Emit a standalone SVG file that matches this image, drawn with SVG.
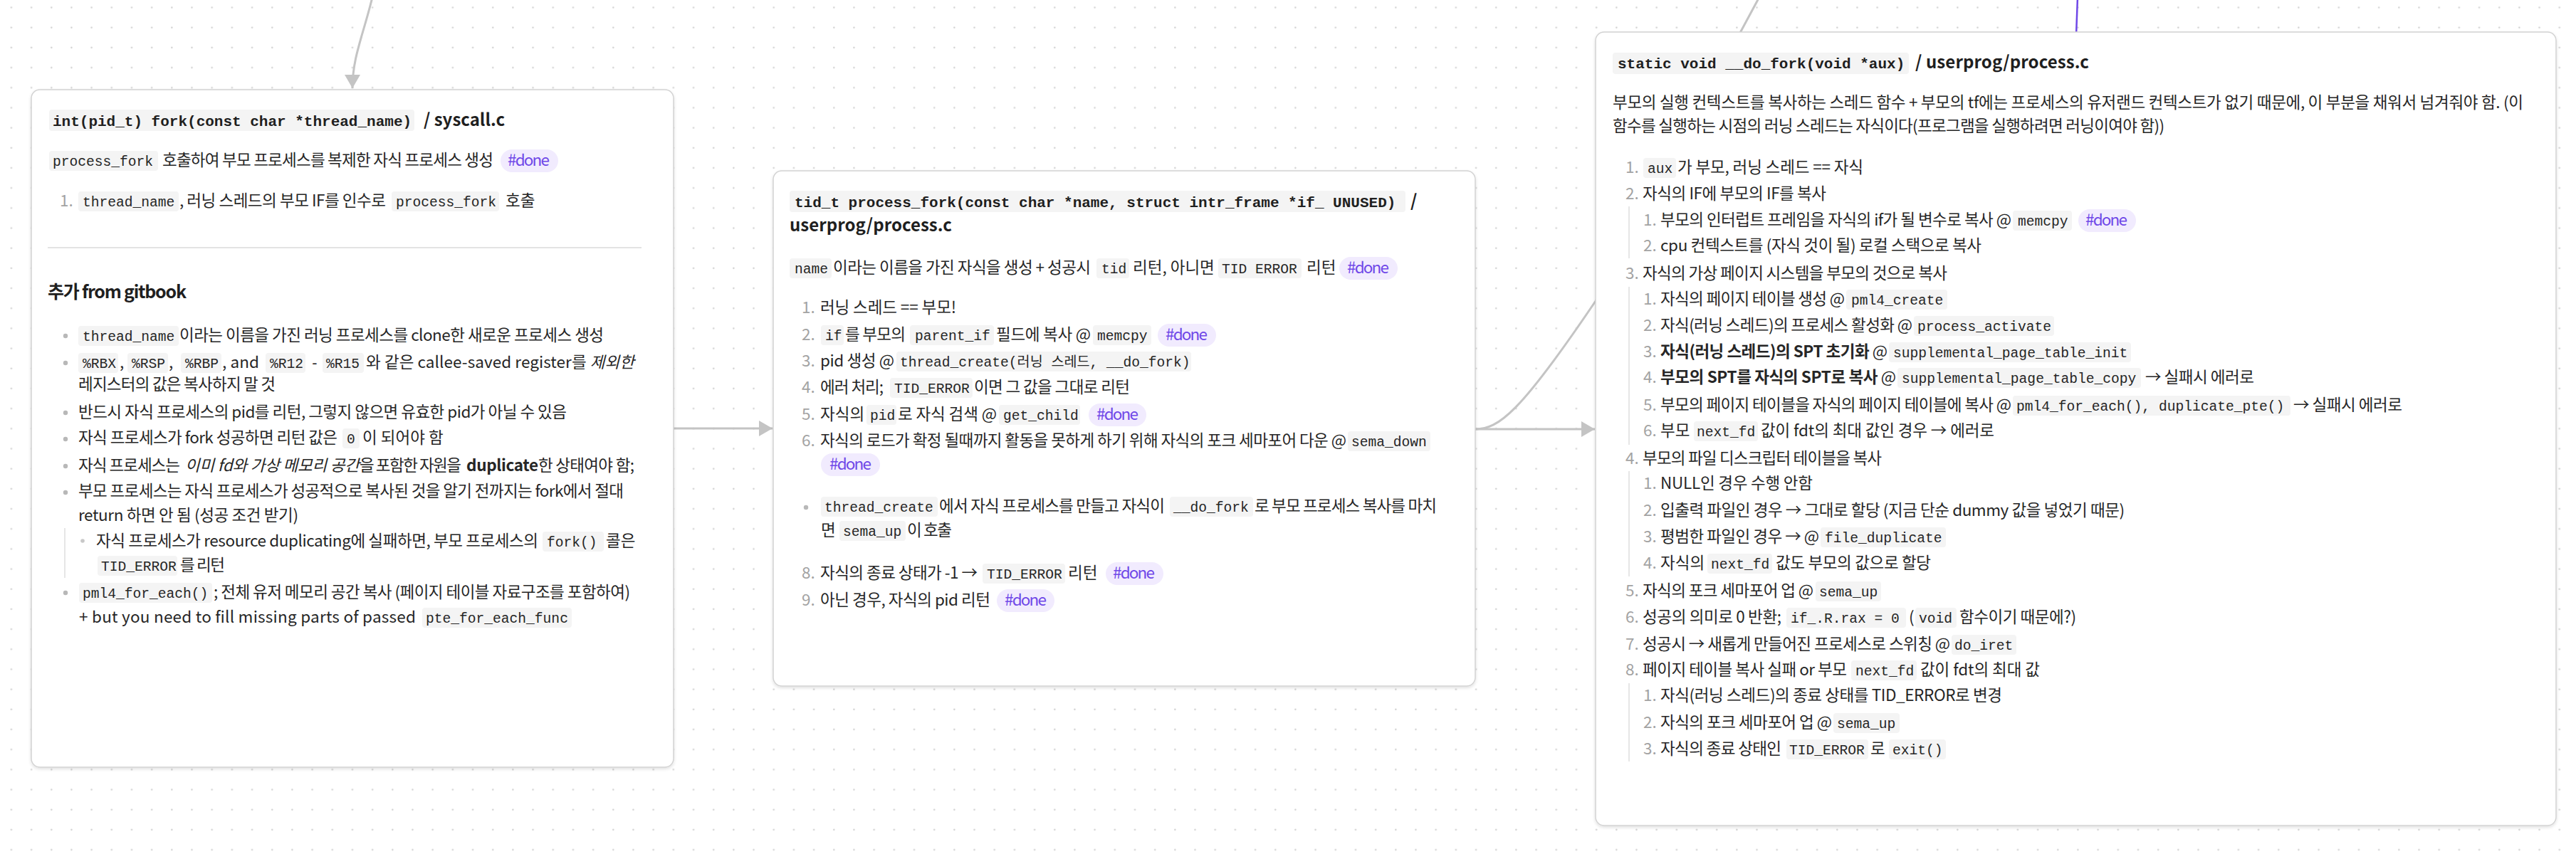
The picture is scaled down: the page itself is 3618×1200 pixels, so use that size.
<svg xmlns="http://www.w3.org/2000/svg" width="3618" height="1200" viewBox="0 0 3618 1200">
<defs>
<style>
.t{font-family:"Noto Sans CJK KR","Noto Sans",sans-serif;font-size:22.5px;fill:#262626}
.c{font-family:"Liberation Mono","DejaVu Sans Mono","Noto Sans CJK KR",monospace;font-size:19.6px;fill:#262626}
.hc{font-family:"Liberation Mono","DejaVu Sans Mono",monospace;font-size:21px;font-weight:bold;fill:#1f1f1f}
.hs{font-family:"Noto Sans CJK KR","Noto Sans",sans-serif;font-size:24px;font-weight:bold;fill:#1f1f1f}
.h2{font-family:"Noto Sans CJK KR","Noto Sans",sans-serif;font-size:25px;font-weight:bold;fill:#1f1f1f}
.n{font-family:"Noto Sans CJK KR","Noto Sans",sans-serif;font-size:22.5px;fill:#a3a3a3}
.b{font-weight:bold}
.i{font-style:italic}
.cb{fill:#f4f4f4}
.pill{fill:#f1ebfe}
.tag{font-family:"Noto Sans CJK KR","Noto Sans",sans-serif;font-size:22.5px;fill:#7048e8}
.card{fill:#fff;stroke:#d2d2d2;stroke-width:1.5}
.dot{fill:#b8b8b8}
.nest{stroke:#e6e6e6;stroke-width:2}
.conn{fill:none;stroke:#c4c4c4;stroke-width:3}
</style>
<pattern id="grid" x="0" y="0" width="28.18" height="28.18" patternUnits="userSpaceOnUse">
<circle cx="15.9" cy="10.5" r="1.3" fill="#d4d4d4"/>
</pattern>
<marker id="ah" markerUnits="userSpaceOnUse" markerWidth="20" markerHeight="22" refX="19" refY="11" orient="auto">
<path d="M0,0 L19,11 L0,22 z" fill="#c4c4c4"/>
</marker>
<filter id="sh" x="-5%" y="-5%" width="110%" height="110%">
<feDropShadow dx="0" dy="2" stdDeviation="2" flood-color="#000" flood-opacity="0.12"/>
</filter>
</defs>
<rect width="3618" height="1200" fill="#fff"/>
<rect width="3618" height="1200" fill="url(#grid)"/>

<g id="connectors">
<path class="conn" d="M523,-4 C510,50 495,80 495,124" marker-end="url(#ah)"/>
<path class="conn" d="M946,602 L1085,602" marker-end="url(#ah)"/>
<path class="conn" d="M2072,603 L2240,603" marker-end="url(#ah)"/>
<path class="conn" d="M2072,603 C2105,603 2135,580 2241,423 L2472,-6"/>
<path d="M2918,-4 L2916,50" fill="none" stroke="#7048e8" stroke-width="2.5"/>
</g>

<g id="node-fork-syscall">
<rect class="card" x="44" y="126" width="902" height="952" rx="12" filter="url(#sh)"/>
<rect class="cb" x="69" y="154" width="513" height="30" rx="4"/>
<text class="hc" x="74" y="177">int(pid_t) fork(const char *thread_name)</text>
<text class="hs" x="595" y="177">/ syscall.c</text>

<rect class="cb" x="69" y="212" width="153" height="28" rx="4"/>
<text class="c" x="74" y="233">process_fork</text>
<text class="t" x="228" y="233" textLength="465" lengthAdjust="spacing">호출하여 부모 프로세스를 복제한 자식 프로세스 생성</text>
<rect class="pill" x="703" y="210" width="81" height="32" rx="16"/>
<text class="tag" x="713" y="233" textLength="59" lengthAdjust="spacing">#done</text>

<text class="n" x="84" y="290">1.</text>
<rect class="cb" x="110" y="269" width="141" height="28" rx="4"/>
<text class="c" x="116" y="290">thread_name</text>
<text class="t" x="252" y="290" textLength="290" lengthAdjust="spacing">, 러닝 스레드의 부모 IF를 인수로</text>
<rect class="cb" x="550" y="269" width="151" height="28" rx="4"/>
<text class="c" x="556" y="290">process_fork</text>
<text class="t" x="710" y="290">호출</text>

<line x1="67" y1="348" x2="901" y2="348" stroke="#e3e3e3" stroke-width="2"/>
<text class="h2" x="67" y="419" textLength="195" lengthAdjust="spacing">추가 from gitbook</text>

<circle class="dot" cx="92" cy="472" r="3.2"/>
<rect class="cb" x="110" y="458" width="141" height="28" rx="4"/>
<text class="c" x="116" y="479">thread_name</text>
<text class="t" x="252" y="479" textLength="596" lengthAdjust="spacing">이라는 이름을 가진 러닝 프로세스를 clone한 새로운 프로세스 생성</text>

<circle class="dot" cx="92" cy="510" r="3.2"/>
<rect class="cb" x="110" y="496" width="56" height="28" rx="4"/>
<text class="c" x="116" y="517">%RBX</text>
<text class="t" x="168" y="517">,</text>
<rect class="cb" x="179" y="496" width="57" height="28" rx="4"/>
<text class="c" x="185" y="517">%RSP</text>
<text class="t" x="237" y="517">,</text>
<rect class="cb" x="254" y="496" width="57" height="28" rx="4"/>
<text class="c" x="260" y="517">%RBP</text>
<text class="t" x="312" y="517" textLength="52" lengthAdjust="spacing">, and</text>
<rect class="cb" x="373" y="496" width="56" height="28" rx="4"/>
<text class="c" x="379" y="517">%R12</text>
<text class="c" x="436" y="517">-</text>
<rect class="cb" x="453" y="496" width="58" height="28" rx="4"/>
<text class="c" x="458" y="517">%R15</text>
<text class="t" x="514" y="517" textLength="377" lengthAdjust="spacing">와 같은 callee-saved register를 <tspan class="i">제외한</tspan></text>
<text class="t" x="110" y="548" textLength="277" lengthAdjust="spacing">레지스터의 값은 복사하지 말 것</text>

<circle class="dot" cx="92" cy="580" r="3.2"/>
<text class="t" x="110" y="587" textLength="686" lengthAdjust="spacing">반드시 자식 프로세스의 pid를 리턴, 그렇지 않으면 유효한 pid가 아닐 수 있음</text>

<circle class="dot" cx="92" cy="617" r="3.2"/>
<text class="t" x="110" y="623" textLength="364" lengthAdjust="spacing">자식 프로세스가 fork 성공하면 리턴 값은</text>
<rect class="cb" x="481" y="602" width="24" height="28" rx="4"/>
<text class="c" x="487" y="623">0</text>
<text class="t" x="509" y="623">이 되어야 함</text>

<circle class="dot" cx="92" cy="655" r="3.2"/>
<text class="t" x="110" y="662" textLength="143" lengthAdjust="spacing">자식 프로세스는</text>
<text class="t i" x="260" y="662" textLength="245" lengthAdjust="spacing">이미 fd와 가상 메모리 공간</text>
<text class="t" x="505" y="662" textLength="143" lengthAdjust="spacing">을 포함한 자원을</text>
<text class="t b" x="655" y="662" textLength="101" lengthAdjust="spacing">duplicate</text>
<text class="t" x="756" y="662" textLength="135" lengthAdjust="spacing">한 상태여야 함;</text>

<circle class="dot" cx="92" cy="692" r="3.2"/>
<text class="t" x="110" y="698" textLength="766" lengthAdjust="spacing">부모 프로세스는 자식 프로세스가 성공적으로 복사된 것을 알기 전까지는 fork에서 절대</text>
<text class="t" x="110" y="732" textLength="309" lengthAdjust="spacing">return 하면 안 됨 (성공 조건 받기)</text>

<line class="nest" x1="91" y1="742" x2="91" y2="812"/>
<circle cx="116" cy="760" r="2.8" fill="#c8c8c8"/>
<text class="t" x="135" y="768" textLength="621" lengthAdjust="spacing">자식 프로세스가 resource duplicating에 실패하면, 부모 프로세스의</text>
<rect class="cb" x="762" y="747" width="86" height="28" rx="4"/>
<text class="c" x="768" y="768">fork()</text>
<text class="t" x="851" y="768">콜은</text>
<rect class="cb" x="137" y="781" width="112" height="28" rx="4"/>
<text class="c" x="142" y="802">TID_ERROR</text>
<text class="t" x="253" y="802" textLength="63" lengthAdjust="spacing">를 리턴</text>

<circle class="dot" cx="92" cy="833" r="3.2"/>
<rect class="cb" x="111" y="819" width="187" height="28" rx="4"/>
<text class="c" x="116" y="840">pml4_for_each()</text>
<text class="t" x="300" y="840" textLength="585" lengthAdjust="spacing">; 전체 유저 메모리 공간 복사 (페이지 테이블 자료구조를 포함하여)</text>
<text class="t" x="111" y="875" textLength="473" lengthAdjust="spacing">+ but you need to fill missing parts of passed</text>
<rect class="cb" x="593" y="854" width="210" height="28" rx="4"/>
<text class="c" x="598" y="875">pte_for_each_func</text>
</g>

<g id="node-process-fork">
<rect class="card" x="1086" y="240" width="986" height="724" rx="12" filter="url(#sh)"/>
<rect class="cb" x="1109" y="268" width="865" height="30" rx="4"/>
<text class="hc" x="1116" y="291">tid_t process_fork(const char *name, struct intr_frame *if_ UNUSED)</text>
<text class="hs" x="1981" y="291">/</text>
<text class="hs" x="1109" y="325" textLength="228" lengthAdjust="spacing">userprog/process.c</text>

<rect class="cb" x="1109" y="363" width="59" height="28" rx="4"/>
<text class="c" x="1116" y="384">name</text>
<text class="t" x="1170" y="384" textLength="362" lengthAdjust="spacing">이라는 이름을 가진 자식을 생성 + 성공시</text>
<rect class="cb" x="1540" y="363" width="46" height="28" rx="4"/>
<text class="c" x="1547" y="384">tid</text>
<text class="t" x="1591" y="384">리턴, 아니면</text>
<rect class="cb" x="1711" y="363" width="117" height="28" rx="4"/>
<text class="c" x="1716" y="384">TID ERROR</text>
<text class="t" x="1835" y="384">리턴</text>
<rect class="pill" x="1881" y="361" width="82" height="32" rx="16"/>
<text class="tag" x="1892" y="384" textLength="59" lengthAdjust="spacing">#done</text>

<text class="n" x="1126" y="440">1.</text>
<text class="t" x="1152" y="440" textLength="191" lengthAdjust="spacing">러닝 스레드 == 부모!</text>

<text class="n" x="1126" y="478">2.</text>
<rect class="cb" x="1153" y="457" width="32" height="28" rx="4"/>
<text class="c" x="1159" y="478">if</text>
<text class="t" x="1187" y="478" textLength="85" lengthAdjust="spacing">를 부모의</text>
<rect class="cb" x="1278" y="457" width="118" height="28" rx="4"/>
<text class="c" x="1285" y="478">parent_if</text>
<text class="t" x="1399" y="478" textLength="133" lengthAdjust="spacing">필드에 복사 @</text>
<rect class="cb" x="1535" y="457" width="82" height="28" rx="4"/>
<text class="c" x="1541" y="478">memcpy</text>
<rect class="pill" x="1626" y="455" width="82" height="32" rx="16"/>
<text class="tag" x="1637" y="478" textLength="59" lengthAdjust="spacing">#done</text>

<text class="n" x="1126" y="515">3.</text>
<text class="t" x="1152" y="515" textLength="104" lengthAdjust="spacing">pid 생성 @</text>
<rect class="cb" x="1259" y="494" width="414" height="28" rx="4"/>
<text class="c" x="1264" y="515">thread_create(러닝 스레드, __do_fork)</text>

<text class="n" x="1126" y="552">4.</text>
<text class="t" x="1152" y="552" textLength="89" lengthAdjust="spacing">에러 처리;</text>
<rect class="cb" x="1250" y="531" width="116" height="28" rx="4"/>
<text class="c" x="1256" y="552">TID_ERROR</text>
<text class="t" x="1368" y="552" textLength="219" lengthAdjust="spacing">이면 그 값을 그대로 리턴</text>

<text class="n" x="1126" y="590">5.</text>
<text class="t" x="1152" y="590">자식의</text>
<rect class="cb" x="1217" y="569" width="42" height="28" rx="4"/>
<text class="c" x="1222" y="590">pid</text>
<text class="t" x="1261" y="590" textLength="139" lengthAdjust="spacing">로 자식 검색 @</text>
<rect class="cb" x="1403" y="569" width="114" height="28" rx="4"/>
<text class="c" x="1409" y="590">get_child</text>
<rect class="pill" x="1529" y="567" width="81" height="32" rx="16"/>
<text class="tag" x="1540" y="590" textLength="59" lengthAdjust="spacing">#done</text>

<text class="n" x="1126" y="627">6.</text>
<text class="t" x="1152" y="627" textLength="739" lengthAdjust="spacing">자식의 로드가 확정 될때까지 활동을 못하게 하기 위해 자식의 포크 세마포어 다운 @</text>
<rect class="cb" x="1893" y="606" width="116" height="28" rx="4"/>
<text class="c" x="1898" y="627">sema_down</text>
<rect class="pill" x="1153" y="637" width="83" height="32" rx="16"/>
<text class="tag" x="1165" y="660" textLength="59" lengthAdjust="spacing">#done</text>

<circle class="dot" cx="1132" cy="713" r="3.2"/>
<rect class="cb" x="1153" y="698" width="164" height="28" rx="4"/>
<text class="c" x="1158" y="719">thread_create</text>
<text class="t" x="1319" y="719" textLength="317" lengthAdjust="spacing">에서 자식 프로세스를 만들고 자식이</text>
<rect class="cb" x="1643" y="698" width="117" height="28" rx="4"/>
<text class="c" x="1648" y="719">__do_fork</text>
<text class="t" x="1762" y="719" textLength="256" lengthAdjust="spacing">로 부모 프로세스 복사를 마치</text>
<text class="t" x="1153" y="753">면</text>
<rect class="cb" x="1179" y="732" width="93" height="28" rx="4"/>
<text class="c" x="1184" y="753">sema_up</text>
<text class="t" x="1274" y="753" textLength="63" lengthAdjust="spacing">이 호출</text>

<text class="n" x="1126" y="813">8.</text>
<text class="t" x="1152" y="813" textLength="221" lengthAdjust="spacing">자식의 종료 상태가 -1 →</text>
<rect class="cb" x="1380" y="792" width="116" height="28" rx="4"/>
<text class="c" x="1386" y="813">TID_ERROR</text>
<text class="t" x="1500" y="813">리턴</text>
<rect class="pill" x="1553" y="790" width="81" height="32" rx="16"/>
<text class="tag" x="1563" y="813" textLength="59" lengthAdjust="spacing">#done</text>

<text class="n" x="1126" y="851">9.</text>
<text class="t" x="1152" y="851" textLength="239" lengthAdjust="spacing">아닌 경우, 자식의 pid 리턴</text>
<rect class="pill" x="1400" y="828" width="81" height="32" rx="16"/>
<text class="tag" x="1411" y="851" textLength="59" lengthAdjust="spacing">#done</text>
</g>

<g id="node-do-fork">
<rect class="card" x="2241" y="45" width="1349" height="1115" rx="12" filter="url(#sh)"/>
<rect class="cb" x="2265" y="74" width="416" height="30" rx="4"/>
<text class="hc" x="2272" y="96">static void __do_fork(void *aux)</text>
<text class="hs" x="2690" y="96" textLength="244" lengthAdjust="spacing">/ userprog/process.c</text>

<text class="t" x="2265" y="152" textLength="1279" lengthAdjust="spacing">부모의 실행 컨텍스트를 복사하는 스레드 함수 + 부모의 tf에는 프로세스의 유저랜드 컨텍스트가 없기 때문에, 이 부분을 채워서 넘겨줘야 함. (이</text>
<text class="t" x="2265" y="185" textLength="775" lengthAdjust="spacing">함수를 실행하는 시점의 러닝 스레드는 자식이다(프로그램을 실행하려면 러닝이여야 함))</text>

<text class="n" x="2283" y="243">1.</text>
<rect class="cb" x="2308" y="222" width="46" height="28" rx="4"/>
<text class="c" x="2314" y="243">aux</text>
<text class="t" x="2356" y="243" textLength="261" lengthAdjust="spacing">가 부모, 러닝 스레드 == 자식</text>

<text class="n" x="2283" y="280">2.</text>
<text class="t" x="2307" y="280" textLength="258" lengthAdjust="spacing">자식의 IF에 부모의 IF를 복사</text>
<line class="nest" x1="2288" y1="290" x2="2288" y2="363"/>
<text class="n" x="2308" y="317">1.</text>
<text class="t" x="2332" y="317" textLength="493" lengthAdjust="spacing">부모의 인터럽트 프레임을 자식의 if가 될 변수로 복사 @</text>
<rect class="cb" x="2827" y="296" width="83" height="28" rx="4"/>
<text class="c" x="2834" y="317">memcpy</text>
<rect class="pill" x="2919" y="294" width="81" height="32" rx="16"/>
<text class="tag" x="2929" y="317" textLength="59" lengthAdjust="spacing">#done</text>
<text class="n" x="2308" y="353">2.</text>
<text class="t" x="2332" y="353" textLength="451" lengthAdjust="spacing">cpu 컨텍스트를 (자식 것이 될) 로컬 스택으로 복사</text>

<text class="n" x="2283" y="392">3.</text>
<text class="t" x="2307" y="392" textLength="428" lengthAdjust="spacing">자식의 가상 페이지 시스템을 부모의 것으로 복사</text>
<line class="nest" x1="2288" y1="403" x2="2288" y2="625"/>
<text class="n" x="2308" y="428">1.</text>
<text class="t" x="2332" y="428" textLength="259" lengthAdjust="spacing">자식의 페이지 테이블 생성 @</text>
<rect class="cb" x="2593" y="407" width="142" height="28" rx="4"/>
<text class="c" x="2600" y="428">pml4_create</text>
<text class="n" x="2308" y="465">2.</text>
<text class="t" x="2332" y="465" textLength="354" lengthAdjust="spacing">자식(러닝 스레드)의 프로세스 활성화 @</text>
<rect class="cb" x="2688" y="444" width="197" height="28" rx="4"/>
<text class="c" x="2693" y="465">process_activate</text>
<text class="n" x="2308" y="502">3.</text>
<text class="t" x="2332" y="502" textLength="319" lengthAdjust="spacing"><tspan class="b">자식(러닝 스레드)의 SPT 초기화</tspan> @</text>
<rect class="cb" x="2653" y="481" width="340" height="28" rx="4"/>
<text class="c" x="2659" y="502">supplemental_page_table_init</text>
<text class="n" x="2308" y="538">4.</text>
<text class="t" x="2332" y="538" textLength="331" lengthAdjust="spacing"><tspan class="b">부모의 SPT를 자식의 SPT로 복사</tspan> @</text>
<rect class="cb" x="2665" y="517" width="342" height="28" rx="4"/>
<text class="c" x="2671" y="538">supplemental_page_table_copy</text>
<text class="t" x="3013" y="538" textLength="153" lengthAdjust="spacing">→ 실패시 에러로</text>
<text class="n" x="2308" y="577">5.</text>
<text class="t" x="2332" y="577" textLength="493" lengthAdjust="spacing">부모의 페이지 테이블을 자식의 페이지 테이블에 복사 @</text>
<rect class="cb" x="2827" y="556" width="390" height="28" rx="4"/>
<text class="c" x="2832" y="577">pml4_for_each(), duplicate_pte()</text>
<text class="t" x="3221" y="577" textLength="153" lengthAdjust="spacing">→ 실패시 에러로</text>
<text class="n" x="2308" y="613">6.</text>
<text class="t" x="2332" y="613">부모</text>
<rect class="cb" x="2379" y="592" width="90" height="28" rx="4"/>
<text class="c" x="2383" y="613">next_fd</text>
<text class="t" x="2473" y="613" textLength="328" lengthAdjust="spacing">값이 fdt의 최대 값인 경우 → 에러로</text>

<text class="n" x="2283" y="652">4.</text>
<text class="t" x="2307" y="652" textLength="336" lengthAdjust="spacing">부모의 파일 디스크립터 테이블을 복사</text>
<line class="nest" x1="2288" y1="662" x2="2288" y2="810"/>
<text class="n" x="2308" y="687">1.</text>
<text class="t" x="2332" y="687" textLength="214" lengthAdjust="spacing">NULL인 경우 수행 안함</text>
<text class="n" x="2308" y="725">2.</text>
<text class="t" x="2332" y="725" textLength="652" lengthAdjust="spacing">입출력 파일인 경우 → 그대로 할당 (지금 단순 dummy 값을 넣었기 때문)</text>
<text class="n" x="2308" y="762">3.</text>
<text class="t" x="2332" y="762" textLength="223" lengthAdjust="spacing">평범한 파일인 경우 → @</text>
<rect class="cb" x="2557" y="741" width="176" height="28" rx="4"/>
<text class="c" x="2563" y="762">file_duplicate</text>
<text class="n" x="2308" y="799">4.</text>
<text class="t" x="2332" y="799">자식의</text>
<rect class="cb" x="2398" y="778" width="91" height="28" rx="4"/>
<text class="c" x="2403" y="799">next_fd</text>
<text class="t" x="2494" y="799" textLength="218" lengthAdjust="spacing">값도 부모의 값으로 할당</text>

<text class="n" x="2283" y="838">5.</text>
<text class="t" x="2307" y="838" textLength="240" lengthAdjust="spacing">자식의 포크 세마포어 업 @</text>
<rect class="cb" x="2550" y="817" width="92" height="28" rx="4"/>
<text class="c" x="2555" y="838">sema_up</text>

<text class="n" x="2283" y="875">6.</text>
<text class="t" x="2307" y="875" textLength="195" lengthAdjust="spacing">성공의 의미로 0 반환;</text>
<rect class="cb" x="2509" y="854" width="168" height="28" rx="4"/>
<text class="c" x="2515" y="875">if_.R.rax = 0</text>
<text class="t" x="2681" y="875">(</text>
<rect class="cb" x="2690" y="854" width="58" height="28" rx="4"/>
<text class="c" x="2695" y="875">void</text>
<text class="t" x="2752" y="875" textLength="164" lengthAdjust="spacing">함수이기 때문에?)</text>

<text class="n" x="2283" y="913">7.</text>
<text class="t" x="2307" y="913" textLength="432" lengthAdjust="spacing">성공시 → 새롭게 만들어진 프로세스로 스위칭 @</text>
<rect class="cb" x="2741" y="892" width="91" height="28" rx="4"/>
<text class="c" x="2745" y="913">do_iret</text>

<text class="n" x="2283" y="949">8.</text>
<text class="t" x="2307" y="949" textLength="287" lengthAdjust="spacing">페이지 테이블 복사 실패 or 부모</text>
<rect class="cb" x="2600" y="928" width="92" height="28" rx="4"/>
<text class="c" x="2606" y="949">next_fd</text>
<text class="t" x="2697" y="949" textLength="168" lengthAdjust="spacing">값이 fdt의 최대 값</text>
<line class="nest" x1="2288" y1="960" x2="2288" y2="1070"/>
<text class="n" x="2308" y="985">1.</text>
<text class="t" x="2332" y="985" textLength="480" lengthAdjust="spacing">자식(러닝 스레드)의 종료 상태를 TID_ERROR로 변경</text>
<text class="n" x="2308" y="1023">2.</text>
<text class="t" x="2332" y="1023" textLength="241" lengthAdjust="spacing">자식의 포크 세마포어 업 @</text>
<rect class="cb" x="2575" y="1002" width="93" height="28" rx="4"/>
<text class="c" x="2580" y="1023">sema_up</text>
<text class="n" x="2308" y="1060">3.</text>
<text class="t" x="2332" y="1060" textLength="170" lengthAdjust="spacing">자식의 종료 상태인</text>
<rect class="cb" x="2509" y="1039" width="115" height="28" rx="4"/>
<text class="c" x="2513" y="1060">TID_ERROR</text>
<text class="t" x="2627" y="1060">로</text>
<rect class="cb" x="2653" y="1039" width="80" height="28" rx="4"/>
<text class="c" x="2658" y="1060">exit()</text>
</g>
</svg>
